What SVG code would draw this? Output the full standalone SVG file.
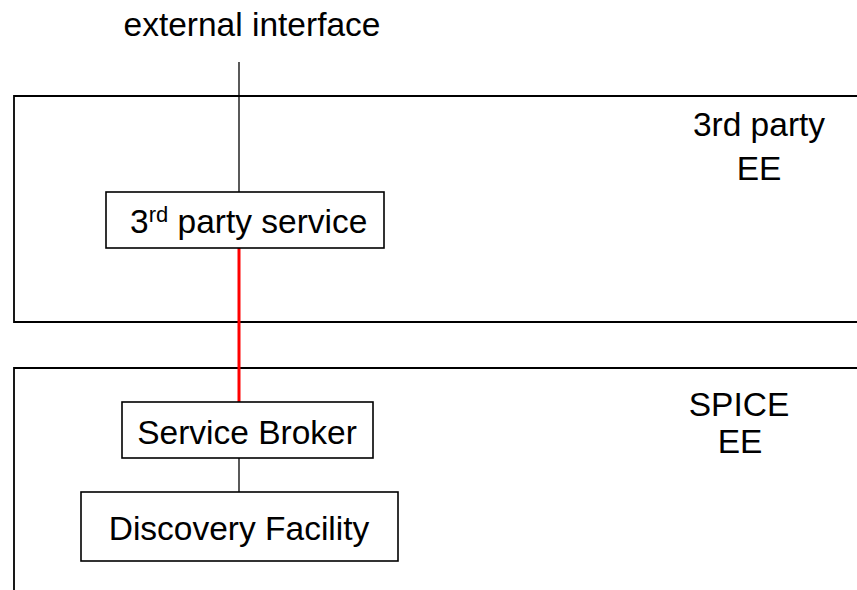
<svg xmlns="http://www.w3.org/2000/svg" width="857" height="590" viewBox="0 0 857 590">
  <style>
    text { font-family: "Liberation Sans", Arial, sans-serif; font-size: 33.5px; fill: #000; }
    .ee { fill: none; stroke: #000; stroke-width: 1.8; }
    .node { fill: #fff; stroke: #000; stroke-width: 1.6; }
    .link { stroke: #000; stroke-width: 1.3; fill: none; }
    .red { stroke: #ff0000; stroke-width: 3; fill: none; }
    .mid { text-anchor: middle; }
  </style>
  <rect width="857" height="590" fill="#fff"/>

  <!-- execution environments -->
  <g id="ee-third-party">
    <path class="ee" d="M860,96 H14 V322 H860"/>
    <text class="mid" x="759" y="136">3rd party</text>
    <text class="mid" x="759" y="180">EE</text>
  </g>
  <g id="ee-spice">
    <path class="ee" d="M860,368 H14 V595"/>
    <text class="mid" x="739" y="416">SPICE</text>
    <text class="mid" x="740" y="453">EE</text>
  </g>

  <text id="external-interface" class="mid" x="252" y="36">external interface</text>

  <!-- connectors -->
  <g id="connectors">
    <line class="link" x1="239" y1="62" x2="239" y2="192"/>
    <line class="red" x1="239" y1="248" x2="239" y2="402"/>
    <line class="link" x1="239" y1="458" x2="239" y2="492"/>
  </g>

  <!-- nodes -->
  <g id="third-party-service">
    <rect class="node" x="106" y="192" width="278" height="56"/>
    <text x="130" y="233">3<tspan font-size="22" dy="-11">rd</tspan><tspan dy="11"> party service</tspan></text>
  </g>
  <g id="service-broker">
    <rect class="node" x="122" y="402" width="251" height="56"/>
    <text class="mid" x="247" y="444">Service Broker</text>
  </g>
  <g id="discovery-facility">
    <rect class="node" x="81" y="492" width="317" height="69"/>
    <text class="mid" x="239" y="540">Discovery Facility</text>
  </g>
</svg>
